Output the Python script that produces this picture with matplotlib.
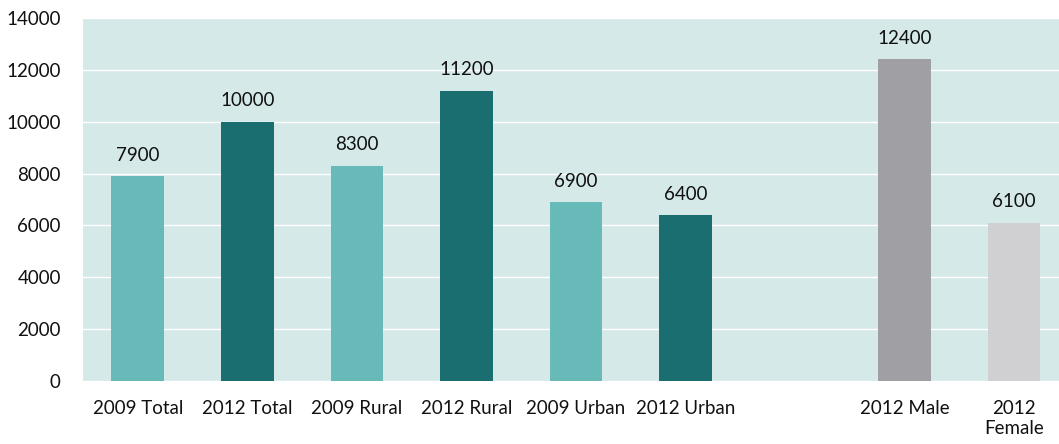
import matplotlib.pyplot as plt
import numpy as np

categories = ["2009 Total", "2012 Total", "2009 Rural", "2012 Rural", "2009 Urban",
              "2012 Urban", "", "2012 Male", "2012\nFemale"]
values = [7900, 10000, 8300, 11200, 6900, 6400, None, 12400, 6100]
colors = ["#68BAB9", "#1A6E70", "#68BAB9", "#1A6E70", "#68BAB9", "#1A6E70",
          "none", "#A0A0A4", "#D0D0D2"]

plt.rcParams['font.family'] = ['Lato', 'DejaVu Sans']

fig = plt.figure(figsize=(10.59, 4.44), dpi=100)
ax = fig.add_axes([83 / 1059, 1 - 381 / 444, (1059 - 83) / 1059, (381 - 18) / 444])
ax.set_facecolor("#D5E9E9")

x = np.arange(len(categories))
for xi, v, c in zip(x, values, colors):
    if v is None:
        continue
    ax.bar(xi, v, width=0.48, color=c, zorder=3)
    ax.annotate(str(v), (xi, v), xytext=(0, 9), textcoords="offset points",
                ha="center", va="bottom", fontsize=13.5, color="#111111")

ax.set_ylim(0, 14000)
ax.set_yticks(np.arange(0, 14001, 2000))
ax.set_xlim(-0.5, 8.41)
ax.set_xticks(x)
ax.set_xticklabels(categories, fontsize=13.5, color="#111111", linespacing=1.15)
ax.tick_params(axis="y", labelsize=13.5, colors="#111111", length=0, pad=16)
ax.tick_params(axis="x", length=0, pad=14)
ax.yaxis.grid(True, color="white", linewidth=1.0, zorder=0)
ax.set_axisbelow(True)
for s in ax.spines.values():
    s.set_visible(False)

fig.savefig("out.png", dpi=100)
